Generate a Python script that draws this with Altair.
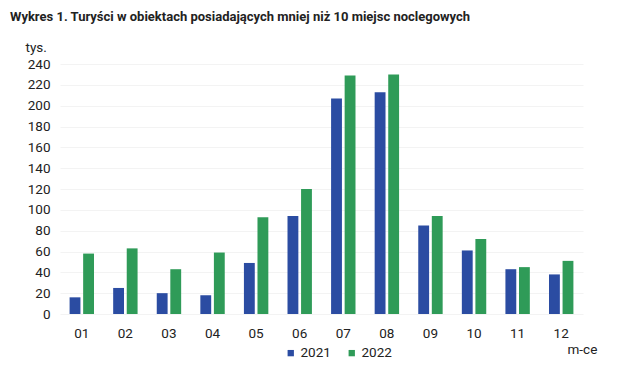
import altair as alt
import pandas as pd

months = ["01", "02", "03", "04", "05", "06", "07", "08", "09", "10", "11", "12"]
v2021 = [16, 25, 20, 18, 49, 94, 207, 213, 85, 61, 43, 38]
v2022 = [58, 63, 43, 59, 93, 120, 229, 230, 94, 72, 45, 51]
years = ["2021", "2022"]
colors = ["#2b4ca2", "#2f9b58"]
y_ticks = list(range(0, 241, 20))

rows = []
for m, a, b in zip(months, v2021, v2022):
    rows.append({"m": m, "rok": years[0], "v": a})
    rows.append({"m": m, "rok": years[1], "v": b})
df = pd.DataFrame(rows)

FONT = "Roboto"

chart = alt.Chart(df).mark_bar().encode(
    x=alt.X("m:N", sort=months,
            scale=alt.Scale(paddingInner=0.44, paddingOuter=0.22),
            axis=alt.Axis(title="m-ce", labelAngle=0, ticks=False, domain=False,
                          labelPadding=12, labelFontSize=13.5, labelColor="#222",
                          titleX=507, titleY=35, titleAlign="left",
                          titleBaseline="middle", titleFontWeight="normal",
                          titleFontSize=13.5, titleColor="#222")),
    xOffset=alt.XOffset("rok:N", scale=alt.Scale(paddingInner=0.2)),
    y=alt.Y("v:Q", scale=alt.Scale(domain=[0, 240], nice=False),
            axis=alt.Axis(values=y_ticks, title="tys.", ticks=False, domain=False,
                          labelPadding=10, labelFontSize=13.5, labelColor="#222",
                          gridColor="#f3f3f3",
                          titleAngle=0, titleX=-35, titleY=-13, titleAlign="left",
                          titleBaseline="alphabetic", titleFontWeight="normal",
                          titleFontSize=13.5, titleColor="#222")),
    color=alt.Color("rok:N", scale=alt.Scale(domain=years, range=colors),
                    legend=alt.Legend(title=None, orient="none", direction="horizontal",
                                      legendX=224, legendY=282, symbolType="square",
                                      symbolSize=40, labelFontSize=13.5, labelColor="#222",
                                      columnPadding=14, labelOffset=3)),
).properties(
    width=523, height=250,
    autosize=alt.AutoSizeParams(type="none"),
    padding={"left": 52, "top": 56, "right": 29, "bottom": 53},
    title=alt.TitleParams("Wykres 1. Turyści w obiektach posiadających mniej niż 10 miejsc noclegowych",
                          anchor="start", frame="group", dx=-50, offset=16,
                          fontSize=13, fontWeight="bold", color="#222", font=FONT),
).configure(font=FONT).configure_view(stroke=None)

chart.save("out.html", embed_options={"renderer": "svg", "actions": False})
